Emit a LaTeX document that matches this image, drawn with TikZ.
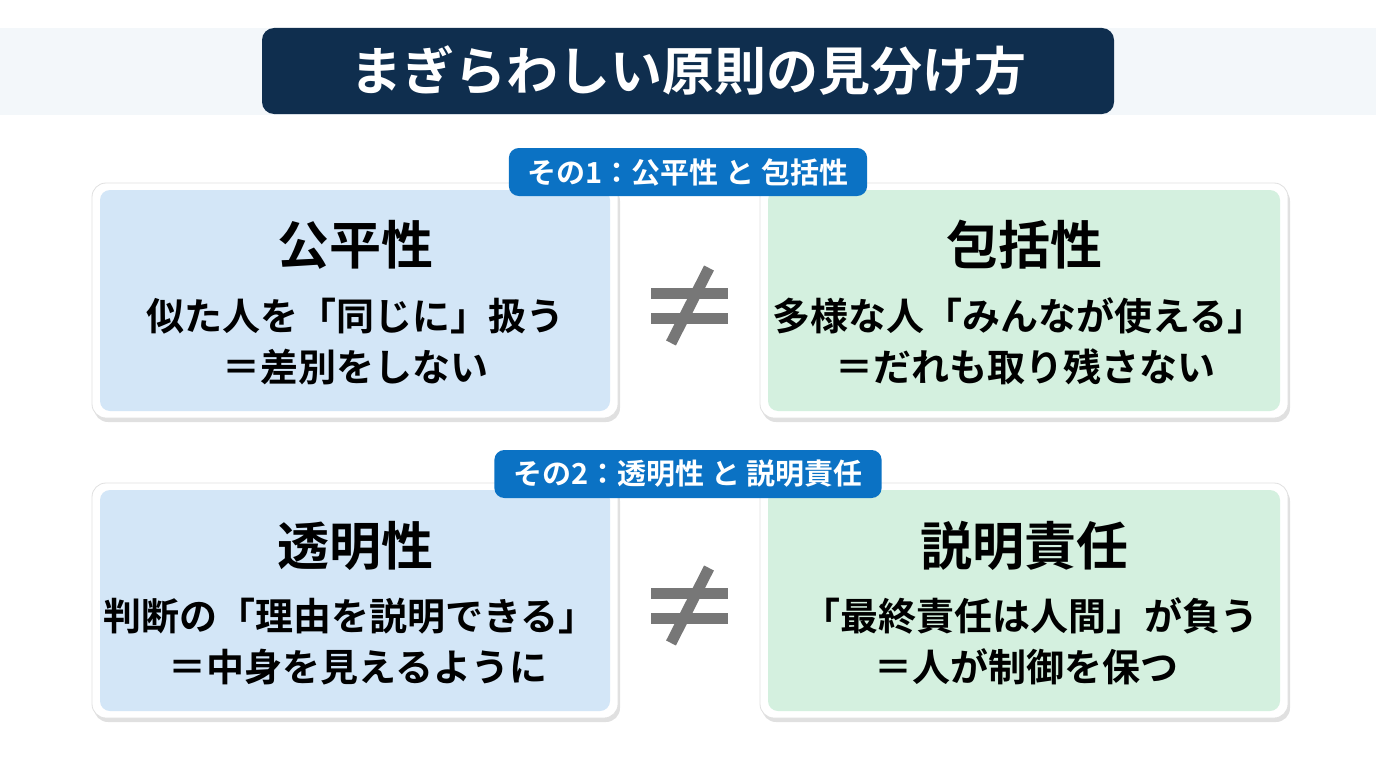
\documentclass[tikz,border=0pt]{standalone}
\usepackage{fontspec}
\setmainfont{Noto Sans CJK JP}[BoldFont={Noto Sans CJK JP Bold}]
\usetikzlibrary{positioning}
\definecolor{navy}{HTML}{0F2E4E}
\definecolor{band}{HTML}{F3F7FA}
\definecolor{pillblue}{HTML}{0B72C4}
\definecolor{lblue}{HTML}{D3E6F7}
\definecolor{lgreen}{HTML}{D4F0DF}
\definecolor{neqgray}{HTML}{777777}
\tikzset{
  outerbox/.style={draw=black!12, line width=0.8pt, fill=white, rounded corners=14pt},
  shadowbox/.style={fill=black, opacity=0.12, rounded corners=14pt},
  innerbox/.style={rounded corners=10pt},
  headtxt/.style={font=\bfseries\fontsize{52}{56}\selectfont, text=black, inner sep=0pt},
  bodytxt/.style={font=\bfseries\fontsize{38}{42}\selectfont, text=black, inner sep=0pt},
  pill/.style={fill=pillblue, rounded corners=10pt, text=white, font=\bfseries\fontsize{29}{32}\selectfont, minimum height=48pt, inner xsep=19pt},
  neqbar/.style={draw=neqgray, line width=11pt}
}
\begin{document}
\begin{tikzpicture}[x=1pt,y=-1pt]
\useasboundingbox (0,0) rectangle (1376,768);
\fill[white] (0,0) rectangle (1376,768);
\fill[band] (0,28) rectangle (1376,115);
\node[fill=navy, rounded corners=12pt, minimum width=852pt, minimum height=86pt, text=white, font=\bfseries\fontsize{52}{56}\selectfont] (title) at (688,71) {まぎらわしい原則の見分け方};

% boxes
\foreach \dy/\r in {0/1,300/2}{
  \begin{scope}[yshift=-\dy pt]
    \fill[shadowbox] (94,187) rectangle (620,422);
    \fill[shadowbox] (762,187) rectangle (1290,422);
    \draw[outerbox] (92,183) rectangle (618,418);
    \draw[outerbox] (760,183) rectangle (1288,418);
    \fill[innerbox, lblue] (100,190) rectangle (610,411);
    \fill[innerbox, lgreen] (768,190) rectangle (1280,411);
    \draw[neqbar] (651,293) -- (728,293);
    \draw[neqbar] (651,318) -- (728,318);
    \draw[neqbar] (709,268) -- (671,343);
  \end{scope}
}

% row 1
\node[pill] (p1) at (688,172) {その1：公平性 と 包括性};
\node[headtxt] (h1) at (355,245) {公平性};
\node[bodytxt] (a1) at (355,316) {似た人を「同じに」扱う};
\node[bodytxt] (b1) at (355,367) {＝差別をしない};
\node[headtxt] (h2) at (1024,245) {包括性};
\node[bodytxt] (a2) at (1019,316) {多様な人「みんなが使える」};
\node[bodytxt] (b2) at (1025,367) {＝だれも取り残さない};

% row 2
\node[pill] (p2) at (688,474) {その2：透明性 と 説明責任};
\node[headtxt] (h3) at (355,546) {透明性};
\node[bodytxt] (a3) at (350,616) {判断の「理由を説明できる」};
\node[bodytxt] (b3) at (358,667) {＝中身を見えるように};
\node[headtxt] (h4) at (1024,546) {説明責任};
\node[bodytxt] (a4) at (1030,616) {「最終責任は人間」が負う};
\node[bodytxt] (b4) at (1026,667) {＝人が制御を保つ};
\end{tikzpicture}
\end{document}
